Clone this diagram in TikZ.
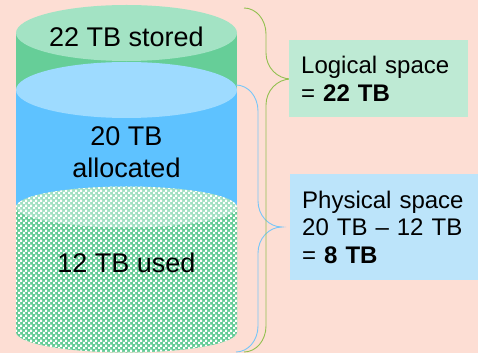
\documentclass[tikz,border=0pt]{standalone}
\usepackage{fontspec}
\setmainfont{Liberation Sans}
\usetikzlibrary{positioning,patterns.meta}

\definecolor{bgpeach}{RGB}{253,222,212}
\definecolor{storedtop}{RGB}{163,227,196}
\definecolor{storedside}{RGB}{102,206,152}
\definecolor{alloctop}{RGB}{158,219,255}
\definecolor{allocside}{RGB}{94,194,255}
\definecolor{usedtop}{RGB}{160,224,194}
\definecolor{usedside}{RGB}{100,204,150}
\definecolor{logicbox}{RGB}{190,234,212}
\definecolor{physbox}{RGB}{188,228,250}
\definecolor{logicline}{RGB}{146,192,80}
\definecolor{physline}{RGB}{120,198,248}

% fine checks for the used part
\pgfdeclarepattern{
  name=smallchecks,
  type=uncolored,
  bottom left={\pgfpoint{0pt}{0pt}},
  top right={\pgfpoint{4.6pt}{4.6pt}},
  tile size={\pgfpoint{4.6pt}{4.6pt}},
  code={
    \pgfpathrectangle{\pgfpoint{0pt}{0pt}}{\pgfpoint{2.3pt}{2.3pt}}
    \pgfpathrectangle{\pgfpoint{2.3pt}{2.3pt}}{\pgfpoint{2.3pt}{2.3pt}}
    \pgfusepath{fill}
  }
}

\begin{document}
\begin{tikzpicture}[x=1pt,y=1pt]
\tikzset{
  lbl/.style={font=\fontsize{27}{32}\selectfont, align=center, inner sep=0pt},
  infobox/.style={font=\fontsize{24}{27.5}\selectfont, align=left, anchor=west,
    inner xsep=12pt, inner ysep=0pt},
  brace/.style={line width=0.9pt},
  checks/.style={postaction={pattern=smallchecks, pattern color=white}}
}
  \fill[bgpeach] (0,0) rectangle (478,353);
  \useasboundingbox (0,0) rectangle (478,353);

  % stored
  \fill[storedside] (16,320) rectangle (237,263);
  \fill[storedtop] (126.5,320) ellipse[x radius=110.5, y radius=28];
  % allocated
  \fill[allocside] (16,263) rectangle (237,146);
  \fill[alloctop] (126.5,263) ellipse[x radius=110.5, y radius=28];
  % used
  \fill[usedside, checks] (16,146) -- (16,21)
    arc[start angle=180, end angle=360, x radius=110.5, y radius=20.5] -- (237,146) -- cycle;
  \fill[usedtop, checks] (126.5,146) ellipse[x radius=110.5, y radius=20.5];

  \node[lbl] (stored) at (126.5,316) {22 TB stored};
  \node[lbl] (alloc) at (126.5,201) {20 TB\\allocated};
  \node[lbl] (used) at (126.5,90.5) {12 TB used};

  % braces
  \draw[brace, physline] (236,268)
    arc[start angle=90, end angle=0, x radius=22, y radius=26] -- (258,152)
    arc[start angle=180, end angle=270, x radius=24, y radius=26] coordinate (ptip)
    arc[start angle=90, end angle=180, x radius=24, y radius=26] -- (258,27)
    arc[start angle=0, end angle=-90, x radius=22, y radius=26];
  \draw[brace, logicline] (244,345)
    arc[start angle=90, end angle=0, x radius=22, y radius=26] -- (266,300)
    arc[start angle=180, end angle=270, x radius=25, y radius=26] coordinate (ltip)
    arc[start angle=90, end angle=180, x radius=25, y radius=26] -- (266,27)
    arc[start angle=0, end angle=-90, x radius=22, y radius=26];

  \node[infobox, fill=logicbox, text width=155pt, minimum height=77pt, right=-2pt of ltip]
    (logical) {Logical space\\= \textbf{22 TB}};
  \node[infobox, fill=physbox, text width=170pt, minimum height=106pt, right=8pt of ptip]
    (physical) {Physical space\\20 TB -- 12 TB\\= \textbf{8 TB}};
\end{tikzpicture}
\end{document}
